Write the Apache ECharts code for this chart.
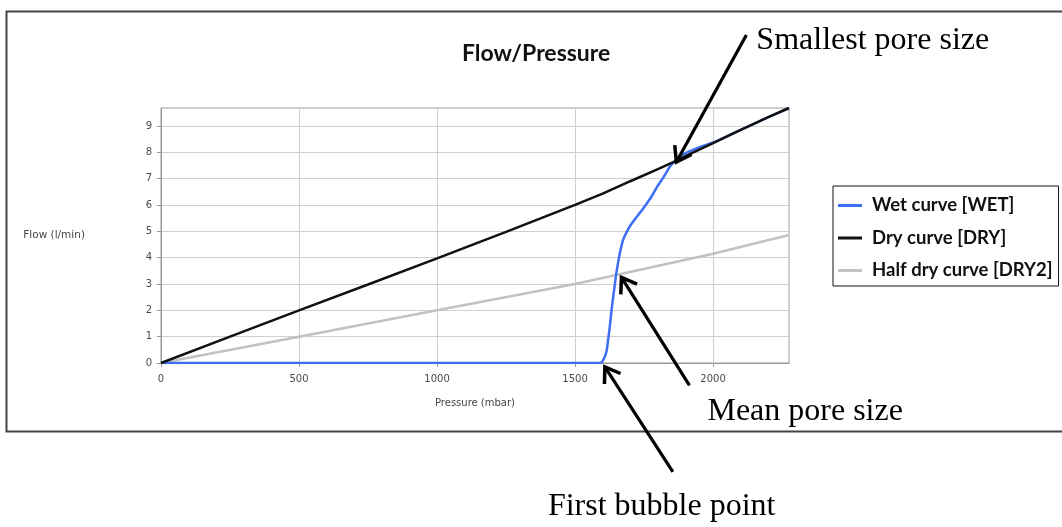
<!DOCTYPE html>
<html>
<head>
<meta charset="utf-8">
<script src="https://cdn.jsdelivr.net/npm/echarts@6/dist/echarts.min.js"></script>
<style>
html,body{margin:0;padding:0;background:#fff;}
#chart{width:1062px;height:527px;}
</style>
</head>
<body>
<div id="chart"></div>
<script>
// ---- data ----
const wetPressure = [0, 1590, 1598, 1606, 1614, 1620, 1626, 1632, 1638, 1643, 1648, 1654, 1660, 1667, 1675, 1686, 1699, 1716, 1735, 1756, 1777, 1795, 1814, 1830, 1844, 1860, 1874, 1900, 1940, 1980, 2013, 2100, 2200, 2275];
const wetFlow     = [0, 0, 0.05, 0.2, 0.45, 0.9, 1.4, 2.0, 2.5, 2.9, 3.3, 3.7, 4.05, 4.4, 4.7, 4.95, 5.2, 5.45, 5.7, 6.0, 6.32, 6.65, 6.95, 7.22, 7.46, 7.65, 7.8, 7.97, 8.15, 8.3, 8.42, 8.85, 9.33, 9.68];

const dryPressure = [0, 250, 500, 750, 1000, 1250, 1500, 1600, 1700, 1800, 1862, 1900, 2000, 2100, 2200, 2275];
const dryFlow     = [0, 1.0, 2.0, 2.98, 3.97, 4.98, 6.0, 6.43, 6.9, 7.36, 7.65, 7.85, 8.35, 8.85, 9.33, 9.68];

const halfPressure = [0, 500, 1000, 1500, 2000, 2275];
const halfFlow     = [0, 1.0, 2.0, 3.0, 4.15, 4.86];

const seriesNames = ['Wet curve [WET]', 'Dry curve [DRY]', 'Half dry curve [DRY2]'];
const titleText = 'Flow/Pressure';
const xAxisName = 'Pressure (mbar)';
const yAxisName = 'Flow (l/min)';

const annotationTexts  = ['Smallest pore size', 'Mean pore size', 'First bubble point'];
const annotationPoints = [[1867, 7.63], [1668, 3.25], [1608, -0.15]];

const zip = (a, b) => a.map((v, i) => [v, b[i]]);

const chart = echarts.init(document.getElementById('chart'), null, {renderer: 'canvas'});
const tickFont = {fontFamily: 'DejaVu Sans', fontSize: 10, color: '#4a4a4a', formatter: v => String(v)};

chart.setOption({
  animation: false,
  backgroundColor: '#fff',
  title: {
    text: titleText, left: 457, top: 37,
    textStyle: {fontFamily: 'Lato', fontWeight: 'bold', fontSize: 23, color: '#111'}
  },
  legend: {
    data: seriesNames,
    orient: 'vertical', left: 833, top: 186,
    padding: [10, 6, 6, 5], itemGap: 13.5,
    itemWidth: 24, itemHeight: 3, icon: 'rect',
    borderColor: '#111', borderWidth: 1, backgroundColor: '#fff',
    textStyle: {fontFamily: 'Lato', fontWeight: 'bold', fontSize: 18.5, color: '#111', padding: [0, 0, 0, 5]}
  },
  grid: {left: 161, top: 108, right: 273, bottom: 164, show: true, borderColor: '#999', borderWidth: 1},
  xAxis: {
    type: 'value', min: 0, max: 2275, interval: 500,
    name: xAxisName, nameLocation: 'middle', nameGap: 35,
    nameTextStyle: {fontFamily: 'DejaVu Sans', fontSize: 10, color: '#444'},
    axisLine: {show: true, lineStyle: {color: '#999'}},
    axisTick: {show: true, length: 4, lineStyle: {color: '#999'}},
    axisLabel: Object.assign({margin: 11, showMaxLabel: false}, tickFont),
    splitLine: {show: true, lineStyle: {color: '#cfcfcf', width: 1}}
  },
  yAxis: {
    type: 'value', min: 0, max: 9.68, interval: 1,
    name: yAxisName, nameLocation: 'middle', nameRotate: 0, nameGap: 76,
    nameTextStyle: {fontFamily: 'DejaVu Sans', fontSize: 10.5, color: '#444', align: 'right'},
    axisLine: {show: true, lineStyle: {color: '#999'}},
    axisTick: {show: true, length: 4, lineStyle: {color: '#999'}},
    axisLabel: Object.assign({margin: 9, showMaxLabel: false}, tickFont),
    splitLine: {show: true, lineStyle: {color: '#cfcfcf', width: 1}}
  },
  series: [
    {name: seriesNames[0], type: 'line', data: zip(wetPressure, wetFlow), showSymbol: false, symbol: 'none', smooth: 0.2,
     lineStyle: {color: '#3d6ff3', width: 2.5}, itemStyle: {color: '#3d6ff3'}, z: 3},
    {name: seriesNames[1], type: 'line', data: zip(dryPressure, dryFlow), showSymbol: false, symbol: 'none',
     lineStyle: {color: '#111', width: 2.5}, itemStyle: {color: '#111'}, z: 4},
    {name: seriesNames[2], type: 'line', data: zip(halfPressure, halfFlow), showSymbol: false, symbol: 'none',
     lineStyle: {color: '#c2c2c2', width: 2.5}, itemStyle: {color: '#c2c2c2'}, z: 2}
  ]
});

// ---- annotation arrows anchored to data points ----
const tailOffsets = [[70, -127], [68, 108], [68, 105]];
const labelOffsets = [[80, -121], [86, 134], [-57, 140]];
const graphics = [{
  type: 'rect', shape: {x: 6.5, y: 11.5, width: 1070, height: 420},
  style: {fill: null, stroke: '#444', lineWidth: 2}, silent: true, z: 0
}];
annotationPoints.forEach((pt, i) => {
  const tip = chart.convertToPixel({gridIndex: 0}, pt);
  const tail = [tip[0] + tailOffsets[i][0], tip[1] + tailOffsets[i][1]];
  const ang = Math.atan2(tail[1] - tip[1], tail[0] - tip[0]);
  const L = 17, spread = 0.6;
  const a1 = [tip[0] + L * Math.cos(ang + spread), tip[1] + L * Math.sin(ang + spread)];
  const a2 = [tip[0] + L * Math.cos(ang - spread), tip[1] + L * Math.sin(ang - spread)];
  graphics.push({type: 'line', shape: {x1: tip[0], y1: tip[1], x2: tail[0], y2: tail[1]},
    style: {stroke: '#000', lineWidth: 3.2}, z: 100});
  graphics.push({type: 'polyline', shape: {points: [a1, tip, a2]},
    style: {stroke: '#000', lineWidth: 3.5, fill: null, lineJoin: 'miter'}, z: 100});
  graphics.push({type: 'text', x: tip[0] + labelOffsets[i][0], y: tip[1] + labelOffsets[i][1],
    style: {text: annotationTexts[i], font: '32px "Liberation Serif"', fill: '#000', verticalAlign: 'middle'},
    z: 100});
});
chart.setOption({graphic: graphics});
</script>
</body>
</html>
